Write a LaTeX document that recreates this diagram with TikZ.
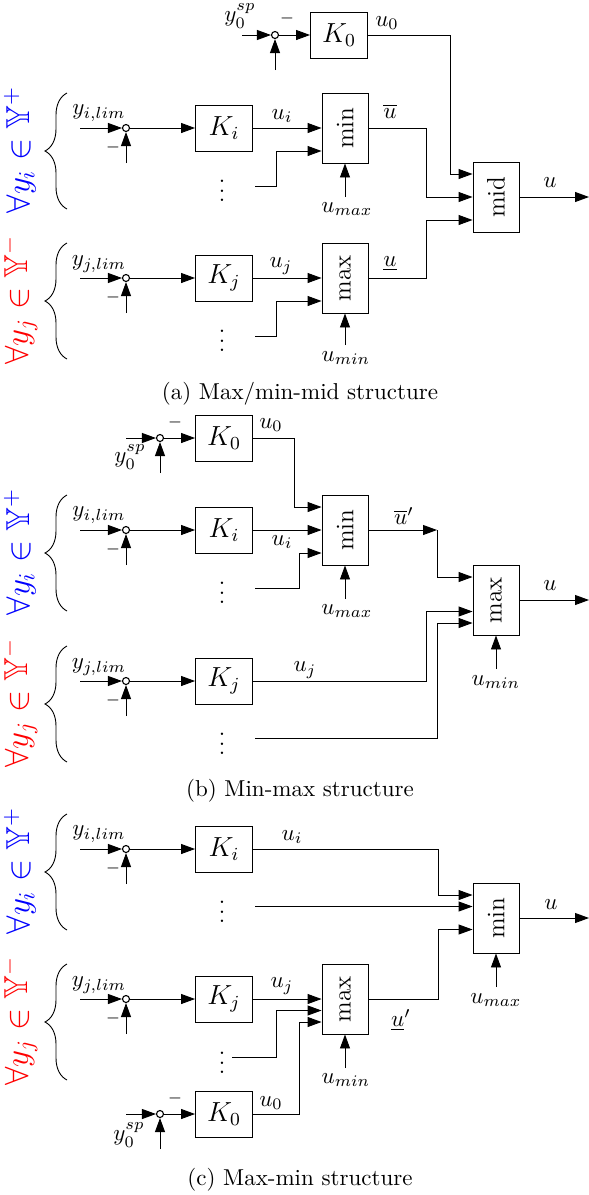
\documentclass[tikz,border=0pt]{standalone}
\usepackage{amsmath,amssymb}
\usepackage{graphicx}
\usetikzlibrary{arrows.meta,decorations.pathreplacing,calc}
\newcommand{\bt}[1]{\scalebox{2.3}{#1}}
\newcommand{\bk}[1]{\scalebox{2.3}{\large #1}}
\newcommand{\bs}[1]{\rotatebox{90}{\scalebox{2.3}{\fontsize{11}{13}\selectfont #1}}}
\begin{document}
\begin{tikzpicture}[x=1pt,y=-1pt,line width=0.9pt,
  arr/.style={-{Triangle[length=14pt,width=10pt]}},
  blk/.style={draw,line width=0.9pt,minimum width=57pt,minimum height=46pt,inner sep=0pt},
  sel/.style={draw,line width=0.9pt,minimum width=46pt,minimum height=70pt,inner sep=0pt},
  sj/.style={circle,draw,fill=white,minimum size=7pt,inner sep=0pt,line width=1.1pt},
  lbl/.style={inner sep=0pt},
  brc/.style={decorate,decoration={brace,amplitude=22pt},line width=0.9pt},
  setlbl/.style={inner sep=0pt,rotate=90}]
\useasboundingbox (0,0) rectangle (589,1195);

% ================= (a) =================
\node[sj] (s0a) at (275,35) {};
\node[blk] (K0a) at (339,35) {\bk{$K_0$}};
\node[blk] (Kia) at (224,128) {\bk{$K_i$}};
\node[blk] (Kja) at (224,278) {\bk{$K_j$}};
\node[sj] (sia) at (126,128) {};
\node[sj] (sja) at (126,278) {};
\node[sel] (minA) at (345,128) {\bs{min}};
\node[sel] (maxA) at (345,278) {\bs{max}};
\node[sel] (midA) at (496,197) {\bs{mid}};
\coordinate (in0a) at (242,35);
\coordinate (b0a) at (275,70);
\coordinate (inia) at (80,128);
\coordinate (bia) at (126,163);
\coordinate (inja) at (80,278);
\coordinate (bja) at (126,313);
\coordinate (dia) at (255,186);
\coordinate (dja) at (255,336);
\coordinate (umaxa) at (345,197);
\coordinate (umina) at (345,345);
\coordinate (outa) at (589,197);

\draw[arr] (in0a) -- (s0a);
\draw[arr] (b0a) -- (s0a);
\draw[arr] (s0a) -- (K0a);
\draw[arr] (K0a.east) -- (450,35) |- ([yshift=23pt]midA.west);
\draw[arr] (inia) -- (sia);
\draw[arr] (bia) -- (sia);
\draw[arr] (sia) -- (Kia);
\draw[arr] (Kia.east) -- (minA.west |- Kia.east);
\draw[arr] (dia) -- (276,186) |- ([yshift=-23pt]minA.west);
\draw[arr] (umaxa) -- (minA.south);
\draw[arr] (inja) -- (sja);
\draw[arr] (bja) -- (sja);
\draw[arr] (sja) -- (Kja);
\draw[arr] (Kja.east) -- (maxA.west |- Kja.east);
\draw[arr] (dja) -- (276,336) |- ([yshift=-23pt]maxA.west);
\draw[arr] (umina) -- (maxA.south);
\draw[arr] (minA.east) -- (426,128) |- (midA.west);
\draw[arr] (maxA.east) -- (426,278) |- ([yshift=-23pt]midA.west);
\draw[arr] (midA.east) -- (outa);

\node[lbl] (ly0a) at (240,16) {\bt{$y_0^{sp}$}};
\node[lbl] (lm0a) at (287,18) {\bt{$\scriptstyle -$}};
\node[lbl] (lu0a) at (387,23) {\bt{$u_0$}};
\node[lbl] (lyia) at (99,113) {\bt{$y_{i,lim}$}};
\node[lbl] (lmia) at (113,147) {\bt{$\scriptstyle -$}};
\node[lbl] (luia) at (282,116) {\bt{$u_i$}};
\node[lbl] (lubara) at (390,111) {\bt{$\overline{u}$}};
\node[lbl] (lua) at (550,183) {\bt{$u$}};
\node[lbl] (lumaxa) at (347,209) {\bt{$u_{max}$}};
\node[lbl] (lyja) at (99,264) {\bt{$y_{j,lim}$}};
\node[lbl] (lmja) at (113,297) {\bt{$\scriptstyle -$}};
\node[lbl] (luja) at (281,266) {\bt{$u_j$}};
\node[lbl] (luunda) at (390,264) {\bt{$\underline{u}$}};
\node[lbl] (lumina) at (346,358) {\bt{$u_{min}$}};
\node[lbl] (dotia) at (222,184) {\bt{$\vdots$}};
\node[lbl] (dotja) at (222,334) {\bt{$\vdots$}};
\draw[brc] (67,209) -- (67,93);
\draw[brc] (67,359) -- (67,243);
\node[setlbl,text=blue] (Ypa) at (20,150) {\bt{\Large $\forall y_i \in \mathbb{Y}^+$}};
\node[setlbl,text=red] (Yma) at (20,300) {\bt{\Large $\forall y_j \in \mathbb{Y}^-$}};
\node[lbl] (capa) at (300,394) {\bt{(a) Max/min-mid structure}};

% ================= (b) =================
\node[sj] (s0b) at (160,438) {};
\node[blk] (K0b) at (224,438) {\bk{$K_0$}};
\node[blk] (Kib) at (224,530) {\bk{$K_i$}};
\node[blk] (Kjb) at (224,681) {\bk{$K_j$}};
\node[sj] (sib) at (126,530) {};
\node[sj] (sjb) at (126,681) {};
\node[sel] (minB) at (345,530) {\bs{min}};
\node[sel] (maxB) at (496,600) {\bs{max}};
\coordinate (in0b) at (126,438);
\coordinate (b0b) at (160,473);
\coordinate (inib) at (80,530);
\coordinate (bib) at (126,565);
\coordinate (injb) at (80,681);
\coordinate (bjb) at (126,716);
\coordinate (dib) at (255,588);
\coordinate (djb) at (255,738);
\coordinate (umaxb) at (345,599);
\coordinate (uminb) at (496,669);
\coordinate (ab) at (437,530);
\coordinate (outb) at (589,600);

\draw[arr] (in0b) -- (s0b);
\draw[arr] (b0b) -- (s0b);
\draw[arr] (s0b) -- (K0b);
\draw[arr] (K0b.east) -- (294,438) |- ([yshift=23pt]minB.west);
\draw[arr] (inib) -- (sib);
\draw[arr] (bib) -- (sib);
\draw[arr] (sib) -- (Kib);
\draw[arr] (Kib.east) -- (minB.west |- Kib.east);
\draw[arr] (dib) -- (299,588) |- ([yshift=-23pt]minB.west);
\draw[arr] (umaxb) -- (minB.south);
\draw[arr] (minB.east) -- (ab);
\draw[arr] (ab) |- ([yshift=23pt]maxB.west);
\draw[arr] (injb) -- (sjb);
\draw[arr] (bjb) -- (sjb);
\draw[arr] (sjb) -- (Kjb);
\draw[arr] (Kjb.east) -- (426,681) |- ([yshift=-11.5pt]maxB.west);
\draw[arr] (djb) -- (437,738) |- ([yshift=-23pt]maxB.west);
\draw[arr] (uminb) -- (maxB.south);
\draw[arr] (maxB.east) -- (outb);

\node[lbl] (ly0b) at (130,457) {\bt{$y_0^{sp}$}};
\node[lbl] (lm0b) at (175,422) {\bt{$\scriptstyle -$}};
\node[lbl] (lu0b) at (271,425) {\bt{$u_0$}};
\node[lbl] (lyib) at (99,515) {\bt{$y_{i,lim}$}};
\node[lbl] (lmib) at (113,549) {\bt{$\scriptstyle -$}};
\node[lbl] (luib) at (282,542) {\bt{$u_i$}};
\node[lbl] (lumaxb) at (347,611) {\bt{$u_{max}$}};
\node[lbl] (lubarb) at (404,516) {\bt{$\overline{u}'$}};
\node[lbl] (lub) at (550,586) {\bt{$u$}};
\node[lbl] (luminb) at (496,682) {\bt{$u_{min}$}};
\node[lbl] (lyjb) at (99,667) {\bt{$y_{j,lim}$}};
\node[lbl] (lmjb) at (113,700) {\bt{$\scriptstyle -$}};
\node[lbl] (lujb) at (305,670) {\bt{$u_j$}};
\node[lbl] (dotib) at (222,586) {\bt{$\vdots$}};
\node[lbl] (dotjb) at (222,737) {\bt{$\vdots$}};
\draw[brc] (67,611) -- (67,495);
\draw[brc] (67,762) -- (67,646);
\node[setlbl,text=blue] (Ypb) at (20,552) {\bt{\Large $\forall y_i \in \mathbb{Y}^+$}};
\node[setlbl,text=red] (Ymb) at (20,703) {\bt{\Large $\forall y_j \in \mathbb{Y}^-$}};
\node[lbl] (capb) at (300,791) {\bt{(b) Min-max structure}};

% ================= (c) =================
\node[blk] (Kic) at (224,849) {\bk{$K_i$}};
\node[blk] (Kjc) at (224,999) {\bk{$K_j$}};
\node[blk] (K0c) at (224,1114) {\bk{$K_0$}};
\node[sj] (sic) at (126,849) {};
\node[sj] (sjc) at (126,999) {};
\node[sj] (s0c) at (160,1114) {};
\node[sel] (minC) at (496,918) {\bs{min}};
\node[sel] (maxC) at (345,999) {\bs{max}};
\coordinate (inic) at (80,849);
\coordinate (bic) at (126,884);
\coordinate (injc) at (80,999);
\coordinate (bjc) at (126,1034);
\coordinate (in0c) at (126,1114);
\coordinate (b0c) at (160,1149);
\coordinate (dic) at (255,906.5);
\coordinate (djc) at (232,1057);
\coordinate (umaxc) at (496,987);
\coordinate (uminc) at (345,1068);
\coordinate (outc) at (589,918);

\draw[arr] (inic) -- (sic);
\draw[arr] (bic) -- (sic);
\draw[arr] (sic) -- (Kic);
\draw[arr] (Kic.east) -- (438,849) |- ([yshift=23pt]minC.west);
\draw[arr] (dic) -- ([yshift=11.5pt]minC.west);
\draw[arr] (umaxc) -- (minC.south);
\draw[arr] (minC.east) -- (outc);
\draw[arr] (injc) -- (sjc);
\draw[arr] (bjc) -- (sjc);
\draw[arr] (sjc) -- (Kjc);
\draw[arr] (Kjc.east) -- (maxC.west |- Kjc.east);
\draw[arr] (djc) -- (276,1057) |- ([yshift=-11.5pt]maxC.west);
\draw[arr] (in0c) -- (s0c);
\draw[arr] (b0c) -- (s0c);
\draw[arr] (s0c) -- (K0c);
\draw[arr] (K0c.east) -- (299,1114) |- ([yshift=-23pt]maxC.west);
\draw[arr] (uminc) -- (maxC.south);
\draw[arr] (maxC.east) -- (438,999) |- ([yshift=-11.5pt]minC.west);

\node[lbl] (lyic) at (99,834) {\bt{$y_{i,lim}$}};
\node[lbl] (lmic) at (113,868) {\bt{$\scriptstyle -$}};
\node[lbl] (luic) at (292,837) {\bt{$u_i$}};
\node[lbl] (luc) at (551,905) {\bt{$u$}};
\node[lbl] (lumaxc) at (496,1000) {\bt{$u_{max}$}};
\node[lbl] (lyjc) at (99,985) {\bt{$y_{j,lim}$}};
\node[lbl] (lmjc) at (113,1018) {\bt{$\scriptstyle -$}};
\node[lbl] (lujc) at (282,986) {\bt{$u_j$}};
\node[lbl] (luprc) at (401,1020) {\bt{$\underline{u}'$}};
\node[lbl] (luminc) at (346,1080) {\bt{$u_{min}$}};
\node[lbl] (lu0c) at (271,1103) {\bt{$u_0$}};
\node[lbl] (lm0c) at (175,1098) {\bt{$\scriptstyle -$}};
\node[lbl] (ly0c) at (129,1135) {\bt{$y_0^{sp}$}};
\node[lbl] (dotic) at (222,905) {\bt{$\vdots$}};
\node[lbl] (dotjc) at (222,1056) {\bt{$\vdots$}};
\draw[brc] (67,930) -- (67,814);
\draw[brc] (67,1080) -- (67,964);
\node[setlbl,text=blue] (Ypc) at (20,871) {\bt{\Large $\forall y_i \in \mathbb{Y}^+$}};
\node[setlbl,text=red] (Ymc) at (20,1021) {\bt{\Large $\forall y_j \in \mathbb{Y}^-$}};
\node[lbl] (capc) at (300,1180) {\bt{(c) Max-min structure}};
\end{tikzpicture}
\end{document}
